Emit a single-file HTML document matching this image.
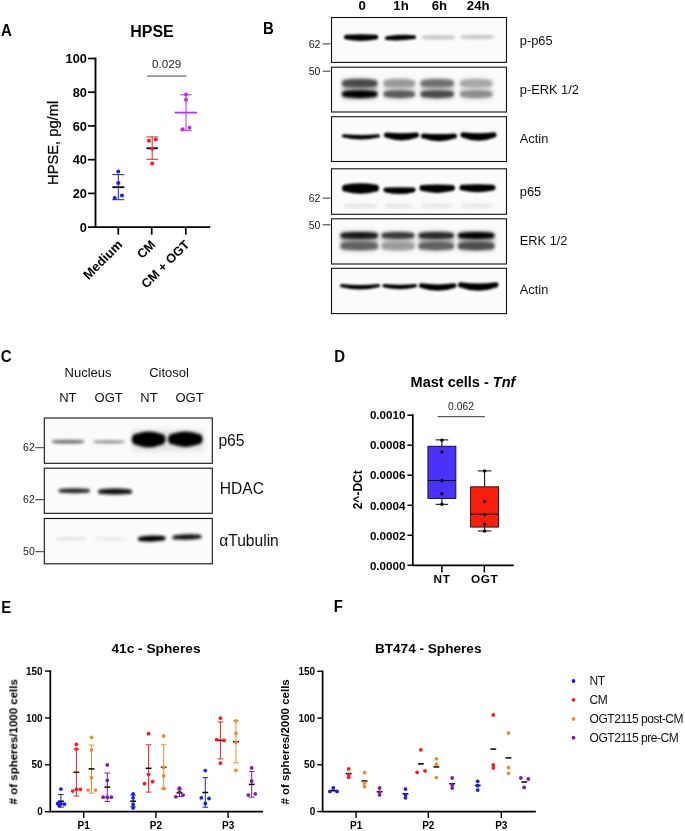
<!DOCTYPE html>
<html lang="en"><head><meta charset="utf-8"><title>Figure</title>
<style>
html,body{margin:0;padding:0;background:#fff;}
body{width:685px;height:831px;overflow:hidden;}
svg{display:block;font-family:"Liberation Sans", sans-serif;}
.b{font-weight:bold;}
.ax{stroke:#000;stroke-width:1.5;fill:none;stroke-linecap:square;}
.tk{stroke:#000;stroke-width:1.4;fill:none;}
.box{fill:#fbfbfb;stroke:#111;stroke-width:1.1;}
.g{fill:#222;}
</style></head><body>
<svg width="685" height="831" viewBox="0 0 685 831">
<defs>
<filter id="bl" filterUnits="userSpaceOnUse" x="0" y="0" width="685" height="831"><feGaussianBlur stdDeviation="1.3"/></filter>
<filter id="bl2" filterUnits="userSpaceOnUse" x="0" y="0" width="685" height="831"><feGaussianBlur stdDeviation="1.8"/></filter>
<filter id="bl3" filterUnits="userSpaceOnUse" x="0" y="0" width="685" height="831"><feGaussianBlur stdDeviation="2.6"/></filter>
<filter id="tb" filterUnits="userSpaceOnUse" x="0" y="0" width="685" height="831"><feGaussianBlur stdDeviation="0.3"/></filter>
</defs>
<rect width="685" height="831" fill="#fff"/>
<g>
<path class="ax" style="stroke-width:1.9" d="M95.5 58.5V227.1H209.3"/>
<line x1="88.0" y1="58.5" x2="95.5" y2="58.5" stroke="#000" stroke-width="1.70"/>
<line x1="88.0" y1="92.2" x2="95.5" y2="92.2" stroke="#000" stroke-width="1.70"/>
<line x1="88.0" y1="125.9" x2="95.5" y2="125.9" stroke="#000" stroke-width="1.70"/>
<line x1="88.0" y1="159.7" x2="95.5" y2="159.7" stroke="#000" stroke-width="1.70"/>
<line x1="88.0" y1="193.4" x2="95.5" y2="193.4" stroke="#000" stroke-width="1.70"/>
<line x1="88.0" y1="227.1" x2="95.5" y2="227.1" stroke="#000" stroke-width="1.70"/>
<line x1="118.3" y1="227.1" x2="118.3" y2="234.7" stroke="#000" stroke-width="1.70"/>
<line x1="151.7" y1="227.1" x2="151.7" y2="234.7" stroke="#000" stroke-width="1.70"/>
<line x1="185.8" y1="227.1" x2="185.8" y2="234.7" stroke="#000" stroke-width="1.70"/>
<line x1="147.2" y1="76.1" x2="186.5" y2="76.1" stroke="#333" stroke-width="0.90"/>
<line x1="118.3" y1="174.6" x2="118.3" y2="199.7" stroke="#1c1cf0" stroke-width="1.00"/>
<line x1="112.3" y1="174.6" x2="124.3" y2="174.6" stroke="#1c1cf0" stroke-width="1.00"/>
<line x1="112.3" y1="199.7" x2="124.3" y2="199.7" stroke="#1c1cf0" stroke-width="1.00"/>
<line x1="112.4" y1="187.2" x2="124.3" y2="187.2" stroke="#000" stroke-width="1.80"/>
<line x1="152.2" y1="136.9" x2="152.2" y2="159.3" stroke="#f31d24" stroke-width="1.00"/>
<line x1="146.5" y1="136.9" x2="157.9" y2="136.9" stroke="#f31d24" stroke-width="1.00"/>
<line x1="146.5" y1="159.3" x2="157.9" y2="159.3" stroke="#f31d24" stroke-width="1.00"/>
<line x1="146.5" y1="148.3" x2="157.9" y2="148.3" stroke="#000" stroke-width="1.80"/>
<line x1="186.0" y1="94.8" x2="186.0" y2="130.7" stroke="#b92ff0" stroke-width="1.00"/>
<line x1="180.3" y1="94.8" x2="191.7" y2="94.8" stroke="#b92ff0" stroke-width="1.00"/>
<line x1="180.3" y1="130.7" x2="191.7" y2="130.7" stroke="#b92ff0" stroke-width="1.00"/>
<line x1="174.6" y1="112.6" x2="197.0" y2="112.6" stroke="#b92ff0" stroke-width="1.80"/>
<circle cx="118.3" cy="171.4" r="2.0" fill="#1c1cf0"/>
<circle cx="118.3" cy="183.0" r="2.0" fill="#1c1cf0"/>
<circle cx="114.7" cy="198.1" r="2.0" fill="#1c1cf0"/>
<circle cx="122.0" cy="195.4" r="2.0" fill="#1c1cf0"/>
<circle cx="149.0" cy="140.8" r="2.0" fill="#f31d24"/>
<circle cx="155.8" cy="139.6" r="2.0" fill="#f31d24"/>
<circle cx="152.2" cy="148.8" r="2.0" fill="#f31d24"/>
<circle cx="152.2" cy="163.6" r="2.0" fill="#f31d24"/>
<circle cx="186.0" cy="94.4" r="2.0" fill="#b92ff0"/>
<circle cx="186.0" cy="99.8" r="2.0" fill="#b92ff0"/>
<circle cx="182.6" cy="129.3" r="2.0" fill="#b92ff0"/>
<circle cx="189.5" cy="127.7" r="2.0" fill="#b92ff0"/>
<rect class="box" x="331.5" y="17.5" width="175" height="44.9"/>
<rect class="box" x="331.5" y="67.2" width="175" height="44.8"/>
<rect class="box" x="331.5" y="116.7" width="175" height="44.8"/>
<rect class="box" x="331.5" y="168.8" width="175" height="45.5"/>
<rect class="box" x="331.5" y="218.8" width="175" height="45.2"/>
<rect class="box" x="331.5" y="268.3" width="175" height="45.3"/>
<line x1="322.7" y1="43.9" x2="330.5" y2="43.9" stroke="#333" stroke-width="1.00"/>
<line x1="322.7" y1="71.2" x2="330.5" y2="71.2" stroke="#333" stroke-width="1.00"/>
<line x1="322.7" y1="198.1" x2="330.5" y2="198.1" stroke="#333" stroke-width="1.00"/>
<line x1="322.7" y1="224.8" x2="330.5" y2="224.8" stroke="#333" stroke-width="1.00"/>
</g>
<g filter="url(#bl3)">
<rect x="343.0" y="79.5" width="33.5" height="19.0" rx="3" fill="#666" opacity="0.55"/>
<rect x="384.5" y="79.5" width="29.5" height="19.0" rx="3" fill="#666" opacity="0.30"/>
<rect x="421.5" y="79.5" width="31.5" height="19.0" rx="3" fill="#666" opacity="0.38"/>
<rect x="461.0" y="79.5" width="30.5" height="19.0" rx="3" fill="#666" opacity="0.25"/>
<rect x="341.5" y="232.0" width="35.5" height="18.0" rx="3" fill="#555" opacity="0.55"/>
<rect x="382.5" y="232.0" width="31.0" height="18.0" rx="3" fill="#555" opacity="0.35"/>
<rect x="419.5" y="232.0" width="33.5" height="18.0" rx="3" fill="#555" opacity="0.50"/>
<rect x="459.0" y="232.0" width="34.5" height="18.0" rx="3" fill="#555" opacity="0.55"/>
</g>
<g filter="url(#bl2)">
<path d="M423.4 35.9Q438.5 34.9 453.6 35.9C455.5 35.9 455.5 38.7 453.6 38.7Q438.5 39.7 423.4 38.7C421.5 38.7 421.5 35.9 423.4 35.9Z" fill="#bcbcbc"/>
<path d="M462.4 35.6Q477.5 34.6 492.6 35.6C494.5 35.6 494.5 38.4 492.6 38.4Q477.5 39.4 462.4 38.4C460.5 38.4 460.5 35.6 462.4 35.6Z" fill="#c2c2c2"/>
<path d="M345.1 80.2Q359.8 77.9 374.4 80.2C378.6 80.2 378.6 86.4 374.4 86.4Q359.8 88.7 345.1 86.4C340.9 86.4 340.9 80.2 345.1 80.2Z" fill="#4a4a4a"/>
<path d="M344.9 91.3Q359.8 89.1 374.6 91.3C378.5 91.3 378.5 97.1 374.6 97.1Q359.8 99.3 344.9 97.1C341.0 97.1 341.0 91.3 344.9 91.3Z" fill="#050505"/>
<path d="M386.6 80.2Q399.2 77.9 411.9 80.2C416.1 80.2 416.1 86.4 411.9 86.4Q399.2 88.7 386.6 86.4C382.4 86.4 382.4 80.2 386.6 80.2Z" fill="#9a9a9a"/>
<path d="M386.4 91.3Q399.2 89.1 412.1 91.3C416.0 91.3 416.0 97.1 412.1 97.1Q399.2 99.3 386.4 97.1C382.5 97.1 382.5 91.3 386.4 91.3Z" fill="#5a5a5a"/>
<path d="M423.6 80.2Q437.2 77.9 450.9 80.2C455.1 80.2 455.1 86.4 450.9 86.4Q437.2 88.7 423.6 86.4C419.4 86.4 419.4 80.2 423.6 80.2Z" fill="#707070"/>
<path d="M423.4 91.3Q437.2 89.1 451.1 91.3C455.0 91.3 455.0 97.1 451.1 97.1Q437.2 99.3 423.4 97.1C419.5 97.1 419.5 91.3 423.4 91.3Z" fill="#484848"/>
<path d="M463.1 80.2Q476.2 77.9 489.4 80.2C493.6 80.2 493.6 86.4 489.4 86.4Q476.2 88.7 463.1 86.4C458.9 86.4 458.9 80.2 463.1 80.2Z" fill="#a8a8a8"/>
<path d="M462.9 91.3Q476.2 89.1 489.6 91.3C493.5 91.3 493.5 97.1 489.6 97.1Q476.2 99.3 462.9 97.1C459.0 97.1 459.0 91.3 462.9 91.3Z" fill="#8c8c8c"/>
<path d="M345.8 203.9Q360.5 202.5 375.2 203.9C377.6 203.9 377.6 207.5 375.2 207.5Q360.5 208.9 345.8 207.5C343.4 207.5 343.4 203.9 345.8 203.9Z" fill="#e6e6e6"/>
<path d="M386.8 203.9Q399.0 202.5 411.2 203.9C413.6 203.9 413.6 207.5 411.2 207.5Q399.0 208.9 386.8 207.5C384.4 207.5 384.4 203.9 386.8 203.9Z" fill="#e6e6e6"/>
<path d="M422.8 203.9Q437.0 202.5 451.2 203.9C453.6 203.9 453.6 207.5 451.2 207.5Q437.0 208.9 422.8 207.5C420.4 207.5 420.4 203.9 422.8 203.9Z" fill="#e6e6e6"/>
<path d="M462.8 203.9Q477.0 202.5 491.2 203.9C493.6 203.9 493.6 207.5 491.2 207.5Q477.0 208.9 462.8 207.5C460.4 207.5 460.4 203.9 462.8 203.9Z" fill="#e6e6e6"/>
<path d="M343.0 232.9Q359.2 230.9 375.5 232.9C378.9 232.9 378.9 237.9 375.5 237.9Q359.2 239.9 343.0 237.9C339.6 237.9 339.6 232.9 343.0 232.9Z" fill="#121212"/>
<path d="M343.6 242.9Q359.2 240.6 374.9 242.9C379.1 242.9 379.1 249.1 374.9 249.1Q359.2 251.4 343.6 249.1C339.4 249.1 339.4 242.9 343.6 242.9Z" fill="#606060"/>
<path d="M384.0 232.9Q398.0 230.9 412.0 232.9C415.4 232.9 415.4 237.9 412.0 237.9Q398.0 239.9 384.0 237.9C380.6 237.9 380.6 232.9 384.0 232.9Z" fill="#383838"/>
<path d="M384.6 242.9Q398.0 240.6 411.4 242.9C415.6 242.9 415.6 249.1 411.4 249.1Q398.0 251.4 384.6 249.1C380.4 249.1 380.4 242.9 384.6 242.9Z" fill="#9c9c9c"/>
<path d="M421.0 232.9Q436.2 230.9 451.5 232.9C454.9 232.9 454.9 237.9 451.5 237.9Q436.2 239.9 421.0 237.9C417.6 237.9 417.6 232.9 421.0 232.9Z" fill="#262626"/>
<path d="M421.6 242.9Q436.2 240.6 450.9 242.9C455.1 242.9 455.1 249.1 450.9 249.1Q436.2 251.4 421.6 249.1C417.4 249.1 417.4 242.9 421.6 242.9Z" fill="#606060"/>
<path d="M460.5 232.9Q476.2 230.9 492.0 232.9C495.4 232.9 495.4 237.9 492.0 237.9Q476.2 239.9 460.5 237.9C457.1 237.9 457.1 232.9 460.5 232.9Z" fill="#050505"/>
<path d="M461.1 242.9Q476.2 240.6 491.4 242.9C495.6 242.9 495.6 249.1 491.4 249.1Q476.2 251.4 461.1 249.1C456.9 249.1 456.9 242.9 461.1 242.9Z" fill="#4c4c4c"/>
</g>
<g filter="url(#bl)">
<path d="M346.4 34.8Q361.1 33.8 375.9 34.8C379.1 34.8 379.1 39.6 375.9 39.6Q361.1 42.2 346.4 39.6C343.2 39.6 343.2 34.8 346.4 34.8Z" fill="#000"/>
<path d="M386.9 36.2Q400.5 34.1 414.1 35.2C416.7 35.2 416.7 39.0 414.1 39.0Q400.5 41.1 386.9 40.0C384.3 40.0 384.3 36.2 386.9 36.2Z" fill="#000"/>
<path d="M343.7 134.2Q361.0 135.8 378.3 134.2C380.6 134.2 380.6 137.6 378.3 137.6Q361.0 141.6 343.7 137.6C341.4 137.6 341.4 134.2 343.7 134.2Z" fill="#000"/>
<path d="M386.6 132.6Q401.5 133.8 416.4 132.6C419.9 132.6 419.9 137.8 416.4 137.8Q401.5 143.0 386.6 137.8C383.1 137.8 383.1 132.6 386.6 132.6Z" fill="#000"/>
<path d="M423.6 133.4Q439.0 134.6 454.4 133.4C457.9 133.4 457.9 138.6 454.4 138.6Q439.0 143.8 423.6 138.6C420.1 138.6 420.1 133.4 423.6 133.4Z" fill="#000"/>
<path d="M463.2 132.3Q478.5 134.1 493.8 132.3C497.5 132.3 497.5 137.7 493.8 137.7Q478.5 143.9 463.2 137.7C459.5 137.7 459.5 132.3 463.2 132.3Z" fill="#000"/>
<path d="M345.7 184.4Q360.5 182.2 375.3 184.4C380.3 184.4 380.3 191.8 375.3 191.8Q360.5 195.6 345.7 191.8C340.7 191.8 340.7 184.4 345.7 184.4Z" fill="#000"/>
<path d="M385.9 187.6Q399.5 186.8 413.1 187.6C416.4 187.6 416.4 192.4 413.1 192.4Q399.5 195.6 385.9 192.4C382.6 192.4 382.6 187.6 385.9 187.6Z" fill="#000"/>
<path d="M422.5 185.1Q437.2 183.9 452.0 185.1C456.1 185.1 456.1 191.1 452.0 191.1Q437.2 194.7 422.5 191.1C418.4 191.1 418.4 185.1 422.5 185.1Z" fill="#000"/>
<path d="M462.4 184.8Q477.5 183.8 492.6 184.8C496.5 184.8 496.5 190.6 492.6 190.6Q477.5 194.0 462.4 190.6C458.5 190.6 458.5 184.8 462.4 184.8Z" fill="#000"/>
<path d="M341.7 283.9Q360.0 285.9 378.3 283.9C380.6 283.9 380.6 287.3 378.3 287.3Q360.0 291.7 341.7 287.3C339.4 287.3 339.4 283.9 341.7 283.9Z" fill="#000"/>
<path d="M384.2 284.1Q399.8 285.3 415.3 284.1C417.6 284.1 417.6 287.5 415.3 287.5Q399.8 291.1 384.2 287.5C381.9 287.5 381.9 284.1 384.2 284.1Z" fill="#000"/>
<path d="M421.3 283.3Q437.8 285.5 454.2 283.3C457.3 283.3 457.3 287.9 454.2 287.9Q437.8 293.7 421.3 287.9C418.2 287.9 418.2 283.3 421.3 283.3Z" fill="#000"/>
<path d="M460.6 282.2Q478.2 285.0 495.9 282.2C499.4 282.2 499.4 287.4 495.9 287.4Q478.2 294.2 460.6 287.4C457.1 287.4 457.1 282.2 460.6 282.2Z" fill="#000"/>
</g>
<g>
<rect class="box" x="44.3" y="418.0" width="168" height="45.3"/>
<rect class="box" x="44.3" y="468.2" width="168" height="45.1"/>
<rect class="box" x="44.3" y="518.5" width="168" height="45.3"/>
<line x1="35.3" y1="447.7" x2="43.8" y2="447.7" stroke="#333" stroke-width="1.00"/>
<line x1="35.3" y1="499.7" x2="43.8" y2="499.7" stroke="#333" stroke-width="1.00"/>
<line x1="35.3" y1="551.7" x2="43.8" y2="551.7" stroke="#333" stroke-width="1.00"/>
</g>
<g filter="url(#bl3)">
<rect x="132.0" y="430.0" width="71.0" height="21.0" rx="3" fill="#888" opacity="0.22"/>
</g>
<g filter="url(#bl2)">
<path d="M53.3 440.3Q68.0 439.3 82.7 440.3C84.5 440.3 84.5 442.9 82.7 442.9Q68.0 443.9 53.3 442.9C51.5 442.9 51.5 440.3 53.3 440.3Z" fill="#6c6c6c"/>
<path d="M94.7 440.7Q109.0 439.9 123.3 440.7C124.9 440.7 124.9 443.1 123.3 443.1Q109.0 443.9 94.7 443.1C93.1 443.1 93.1 440.7 94.7 440.7Z" fill="#8c8c8c"/>
<path d="M137.6 433.6Q148.7 429.2 159.8 433.6C167.6 433.6 167.6 445.2 159.8 445.2Q148.7 449.6 137.6 445.2C129.8 445.2 129.8 433.6 137.6 433.6Z" fill="#000"/>
<path d="M173.8 433.6Q185.4 429.3 197.0 433.6C204.6 433.6 204.6 444.8 197.0 444.8Q185.4 449.1 173.8 444.8C166.2 444.8 166.2 433.6 173.8 433.6Z" fill="#000"/>
<path d="M60.4 489.0Q74.3 487.6 88.2 489.0C90.6 489.0 90.6 492.6 88.2 492.6Q74.3 494.0 60.4 492.6C58.0 492.6 58.0 489.0 60.4 489.0Z" fill="#262626"/>
<path d="M100.4 489.4Q115.1 487.8 129.8 489.4C132.8 489.4 132.8 493.8 129.8 493.8Q115.1 495.4 100.4 493.8C97.4 493.8 97.4 489.4 100.4 489.4Z" fill="#080808"/>
<path d="M57.3 537.4Q71.0 536.5 84.7 537.4C86.4 537.4 86.4 540.0 84.7 540.0Q71.0 540.9 57.3 540.0C55.6 540.0 55.6 537.4 57.3 537.4Z" fill="#e2e2e2"/>
<path d="M97.3 537.6Q111.0 536.7 124.7 537.6C126.4 537.6 126.4 540.2 124.7 540.2Q111.0 541.1 97.3 540.2C95.6 540.2 95.6 537.6 97.3 537.6Z" fill="#e8e8e8"/>
<path d="M140.2 536.7Q151.8 534.8 163.3 536.1C166.3 536.1 166.3 540.5 163.3 540.5Q151.8 542.4 140.2 541.1C137.2 541.1 137.2 536.7 140.2 536.7Z" fill="#050505"/>
<path d="M174.4 535.5Q187.0 533.5 199.6 534.7C202.2 534.7 202.2 538.5 199.6 538.5Q187.0 540.5 174.4 539.3C171.8 539.3 171.8 535.5 174.4 535.5Z" fill="#101010"/>
</g>
<g>
<path class="ax" style="stroke-width:1.7" d="M412.8 415.2V565.3H512.9"/>
<line x1="407.4" y1="415.2" x2="412.8" y2="415.2" stroke="#000" stroke-width="1.50"/>
<line x1="407.4" y1="445.2" x2="412.8" y2="445.2" stroke="#000" stroke-width="1.50"/>
<line x1="407.4" y1="475.2" x2="412.8" y2="475.2" stroke="#000" stroke-width="1.50"/>
<line x1="407.4" y1="505.3" x2="412.8" y2="505.3" stroke="#000" stroke-width="1.50"/>
<line x1="407.4" y1="535.3" x2="412.8" y2="535.3" stroke="#000" stroke-width="1.50"/>
<line x1="407.4" y1="565.3" x2="412.8" y2="565.3" stroke="#000" stroke-width="1.50"/>
<line x1="441.9" y1="565.3" x2="441.9" y2="572.4" stroke="#000" stroke-width="1.50"/>
<line x1="484.3" y1="565.3" x2="484.3" y2="572.4" stroke="#000" stroke-width="1.50"/>
<line x1="437.7" y1="416.7" x2="484.9" y2="416.7" stroke="#333" stroke-width="1.00"/>
<line x1="441.9" y1="439.9" x2="441.9" y2="446.2" stroke="#000" stroke-width="1.00"/>
<line x1="441.9" y1="498.5" x2="441.9" y2="504.3" stroke="#000" stroke-width="1.00"/>
<line x1="435.6" y1="439.9" x2="448.2" y2="439.9" stroke="#000" stroke-width="1.00"/>
<line x1="435.6" y1="504.3" x2="448.2" y2="504.3" stroke="#000" stroke-width="1.00"/>
<rect x="427.9" y="446.2" width="28.0" height="52.3" fill="#4a32fa" stroke="#000" stroke-width="0.8"/>
<line x1="427.9" y1="480.5" x2="455.9" y2="480.5" stroke="#000" stroke-width="1.00"/>
<circle cx="441.9" cy="440.2" r="1.7" fill="#000"/>
<circle cx="441.9" cy="451.9" r="1.7" fill="#000"/>
<circle cx="441.9" cy="480.8" r="1.7" fill="#000"/>
<circle cx="441.9" cy="493.7" r="1.7" fill="#000"/>
<circle cx="441.9" cy="504.3" r="1.7" fill="#000"/>
<line x1="484.6" y1="470.9" x2="484.6" y2="486.8" stroke="#000" stroke-width="1.00"/>
<line x1="484.6" y1="527.1" x2="484.6" y2="531.0" stroke="#000" stroke-width="1.00"/>
<line x1="477.8" y1="470.9" x2="491.4" y2="470.9" stroke="#000" stroke-width="1.00"/>
<line x1="477.8" y1="531.0" x2="491.4" y2="531.0" stroke="#000" stroke-width="1.00"/>
<rect x="470.6" y="486.8" width="28.0" height="40.3" fill="#fa1e0c" stroke="#000" stroke-width="0.8"/>
<line x1="470.6" y1="514.2" x2="498.6" y2="514.2" stroke="#000" stroke-width="1.00"/>
<circle cx="484.6" cy="470.9" r="1.7" fill="#000"/>
<circle cx="484.6" cy="501.6" r="1.7" fill="#000"/>
<circle cx="484.6" cy="514.5" r="1.7" fill="#000"/>
<circle cx="484.6" cy="524.1" r="1.7" fill="#000"/>
<circle cx="484.6" cy="531.0" r="1.7" fill="#000"/>
<path class="ax" style="stroke-width:1.7" d="M50.3 671.1V811.7H262.2"/>
<line x1="45.0" y1="671.1" x2="50.3" y2="671.1" stroke="#000" stroke-width="1.40"/>
<line x1="45.0" y1="718.0" x2="50.3" y2="718.0" stroke="#000" stroke-width="1.40"/>
<line x1="45.0" y1="764.8" x2="50.3" y2="764.8" stroke="#000" stroke-width="1.40"/>
<line x1="45.0" y1="811.7" x2="50.3" y2="811.7" stroke="#000" stroke-width="1.40"/>
<line x1="83.7" y1="811.7" x2="83.7" y2="818.1" stroke="#000" stroke-width="1.40"/>
<line x1="155.9" y1="811.7" x2="155.9" y2="818.1" stroke="#000" stroke-width="1.40"/>
<line x1="228.1" y1="811.7" x2="228.1" y2="818.1" stroke="#000" stroke-width="1.40"/>
<line x1="60.9" y1="794.5" x2="60.9" y2="807.2" stroke="#1c1cf0" stroke-width="1.00"/>
<line x1="58.1" y1="794.5" x2="63.7" y2="794.5" stroke="#1c1cf0" stroke-width="1.00"/>
<line x1="58.1" y1="807.2" x2="63.7" y2="807.2" stroke="#1c1cf0" stroke-width="1.00"/>
<line x1="58.0" y1="801.2" x2="63.8" y2="801.2" stroke="#000" stroke-width="1.50"/>
<circle cx="60.9" cy="789.1" r="1.9" fill="#1c1cf0"/>
<circle cx="57.6" cy="803.5" r="1.9" fill="#1c1cf0"/>
<circle cx="60.9" cy="803.5" r="1.9" fill="#1c1cf0"/>
<circle cx="64.3" cy="804.2" r="1.9" fill="#1c1cf0"/>
<circle cx="59.2" cy="805.5" r="1.9" fill="#1c1cf0"/>
<line x1="76.4" y1="749.1" x2="76.4" y2="796.1" stroke="#f31d24" stroke-width="1.00"/>
<line x1="73.6" y1="749.1" x2="79.2" y2="749.1" stroke="#f31d24" stroke-width="1.00"/>
<line x1="73.6" y1="796.1" x2="79.2" y2="796.1" stroke="#f31d24" stroke-width="1.00"/>
<line x1="73.5" y1="772.3" x2="79.3" y2="772.3" stroke="#000" stroke-width="1.50"/>
<circle cx="76.4" cy="744.4" r="1.9" fill="#f31d24"/>
<circle cx="76.4" cy="749.1" r="1.9" fill="#f31d24"/>
<circle cx="72.7" cy="791.1" r="1.9" fill="#f31d24"/>
<circle cx="76.4" cy="789.4" r="1.9" fill="#f31d24"/>
<circle cx="80.4" cy="789.4" r="1.9" fill="#f31d24"/>
<line x1="91.5" y1="745.1" x2="91.5" y2="793.1" stroke="#f08c2a" stroke-width="1.00"/>
<line x1="88.7" y1="745.1" x2="94.3" y2="745.1" stroke="#f08c2a" stroke-width="1.00"/>
<line x1="88.7" y1="793.1" x2="94.3" y2="793.1" stroke="#f08c2a" stroke-width="1.00"/>
<line x1="88.6" y1="768.9" x2="94.4" y2="768.9" stroke="#000" stroke-width="1.50"/>
<circle cx="91.5" cy="737.4" r="1.9" fill="#f08c2a"/>
<circle cx="91.5" cy="750.1" r="1.9" fill="#f08c2a"/>
<circle cx="91.5" cy="777.7" r="1.9" fill="#f08c2a"/>
<circle cx="88.1" cy="790.1" r="1.9" fill="#f08c2a"/>
<circle cx="95.5" cy="790.1" r="1.9" fill="#f08c2a"/>
<line x1="107.3" y1="773.0" x2="107.3" y2="801.5" stroke="#7a1fa2" stroke-width="1.00"/>
<line x1="104.5" y1="773.0" x2="110.1" y2="773.0" stroke="#7a1fa2" stroke-width="1.00"/>
<line x1="104.5" y1="801.5" x2="110.1" y2="801.5" stroke="#7a1fa2" stroke-width="1.00"/>
<line x1="104.4" y1="787.1" x2="110.2" y2="787.1" stroke="#000" stroke-width="1.50"/>
<circle cx="107.3" cy="764.9" r="1.9" fill="#7a1fa2"/>
<circle cx="107.3" cy="780.4" r="1.9" fill="#7a1fa2"/>
<circle cx="103.2" cy="797.2" r="1.9" fill="#7a1fa2"/>
<circle cx="107.3" cy="797.2" r="1.9" fill="#7a1fa2"/>
<circle cx="111.3" cy="797.2" r="1.9" fill="#7a1fa2"/>
<line x1="133.1" y1="795.1" x2="133.1" y2="806.9" stroke="#1c1cf0" stroke-width="1.00"/>
<line x1="130.3" y1="795.1" x2="135.9" y2="795.1" stroke="#1c1cf0" stroke-width="1.00"/>
<line x1="130.3" y1="806.9" x2="135.9" y2="806.9" stroke="#1c1cf0" stroke-width="1.00"/>
<line x1="130.2" y1="801.2" x2="136.0" y2="801.2" stroke="#000" stroke-width="1.50"/>
<circle cx="133.1" cy="793.8" r="1.9" fill="#1c1cf0"/>
<circle cx="133.1" cy="797.8" r="1.9" fill="#1c1cf0"/>
<circle cx="133.1" cy="804.5" r="1.9" fill="#1c1cf0"/>
<circle cx="133.1" cy="807.9" r="1.9" fill="#1c1cf0"/>
<line x1="148.6" y1="744.8" x2="148.6" y2="792.1" stroke="#f31d24" stroke-width="1.00"/>
<line x1="145.8" y1="744.8" x2="151.4" y2="744.8" stroke="#f31d24" stroke-width="1.00"/>
<line x1="145.8" y1="792.1" x2="151.4" y2="792.1" stroke="#f31d24" stroke-width="1.00"/>
<line x1="145.7" y1="768.3" x2="151.5" y2="768.3" stroke="#000" stroke-width="1.50"/>
<circle cx="148.6" cy="733.7" r="1.9" fill="#f31d24"/>
<circle cx="148.6" cy="774.3" r="1.9" fill="#f31d24"/>
<circle cx="144.5" cy="783.7" r="1.9" fill="#f31d24"/>
<circle cx="152.6" cy="781.7" r="1.9" fill="#f31d24"/>
<line x1="163.7" y1="744.8" x2="163.7" y2="789.1" stroke="#f08c2a" stroke-width="1.00"/>
<line x1="160.9" y1="744.8" x2="166.5" y2="744.8" stroke="#f08c2a" stroke-width="1.00"/>
<line x1="160.9" y1="789.1" x2="166.5" y2="789.1" stroke="#f08c2a" stroke-width="1.00"/>
<line x1="160.8" y1="767.3" x2="166.6" y2="767.3" stroke="#000" stroke-width="1.50"/>
<circle cx="163.7" cy="736.0" r="1.9" fill="#f08c2a"/>
<circle cx="163.7" cy="767.3" r="1.9" fill="#f08c2a"/>
<circle cx="163.7" cy="776.0" r="1.9" fill="#f08c2a"/>
<circle cx="163.7" cy="788.4" r="1.9" fill="#f08c2a"/>
<line x1="179.5" y1="789.1" x2="179.5" y2="796.5" stroke="#7a1fa2" stroke-width="1.00"/>
<line x1="176.7" y1="789.1" x2="182.3" y2="789.1" stroke="#7a1fa2" stroke-width="1.00"/>
<line x1="176.7" y1="796.5" x2="182.3" y2="796.5" stroke="#7a1fa2" stroke-width="1.00"/>
<line x1="176.6" y1="792.8" x2="182.4" y2="792.8" stroke="#000" stroke-width="1.50"/>
<circle cx="179.5" cy="788.1" r="1.9" fill="#7a1fa2"/>
<circle cx="179.5" cy="791.8" r="1.9" fill="#7a1fa2"/>
<circle cx="175.8" cy="796.8" r="1.9" fill="#7a1fa2"/>
<circle cx="183.1" cy="795.1" r="1.9" fill="#7a1fa2"/>
<line x1="205.3" y1="777.7" x2="205.3" y2="807.2" stroke="#1c1cf0" stroke-width="1.00"/>
<line x1="202.5" y1="777.7" x2="208.1" y2="777.7" stroke="#1c1cf0" stroke-width="1.00"/>
<line x1="202.5" y1="807.2" x2="208.1" y2="807.2" stroke="#1c1cf0" stroke-width="1.00"/>
<line x1="202.4" y1="792.5" x2="208.2" y2="792.5" stroke="#000" stroke-width="1.50"/>
<circle cx="205.3" cy="770.6" r="1.9" fill="#1c1cf0"/>
<circle cx="201.3" cy="797.8" r="1.9" fill="#1c1cf0"/>
<circle cx="209.0" cy="798.5" r="1.9" fill="#1c1cf0"/>
<circle cx="205.3" cy="803.5" r="1.9" fill="#1c1cf0"/>
<line x1="220.4" y1="721.9" x2="220.4" y2="758.9" stroke="#f31d24" stroke-width="1.00"/>
<line x1="217.6" y1="721.9" x2="223.2" y2="721.9" stroke="#f31d24" stroke-width="1.00"/>
<line x1="217.6" y1="758.9" x2="223.2" y2="758.9" stroke="#f31d24" stroke-width="1.00"/>
<line x1="217.5" y1="740.4" x2="223.3" y2="740.4" stroke="#000" stroke-width="1.50"/>
<circle cx="220.4" cy="718.2" r="1.9" fill="#f31d24"/>
<circle cx="216.7" cy="739.7" r="1.9" fill="#f31d24"/>
<circle cx="224.1" cy="740.4" r="1.9" fill="#f31d24"/>
<circle cx="220.4" cy="763.2" r="1.9" fill="#f31d24"/>
<line x1="235.9" y1="720.6" x2="235.9" y2="762.9" stroke="#f08c2a" stroke-width="1.00"/>
<line x1="233.1" y1="720.6" x2="238.7" y2="720.6" stroke="#f08c2a" stroke-width="1.00"/>
<line x1="233.1" y1="762.9" x2="238.7" y2="762.9" stroke="#f08c2a" stroke-width="1.00"/>
<line x1="233.0" y1="741.7" x2="238.8" y2="741.7" stroke="#000" stroke-width="1.50"/>
<circle cx="235.9" cy="720.9" r="1.9" fill="#f08c2a"/>
<circle cx="235.9" cy="733.4" r="1.9" fill="#f08c2a"/>
<circle cx="235.9" cy="742.4" r="1.9" fill="#f08c2a"/>
<circle cx="235.9" cy="770.3" r="1.9" fill="#f08c2a"/>
<line x1="251.7" y1="771.6" x2="251.7" y2="797.2" stroke="#7a1fa2" stroke-width="1.00"/>
<line x1="248.9" y1="771.6" x2="254.5" y2="771.6" stroke="#7a1fa2" stroke-width="1.00"/>
<line x1="248.9" y1="797.2" x2="254.5" y2="797.2" stroke="#7a1fa2" stroke-width="1.00"/>
<line x1="248.8" y1="784.4" x2="254.6" y2="784.4" stroke="#000" stroke-width="1.50"/>
<circle cx="251.7" cy="767.9" r="1.9" fill="#7a1fa2"/>
<circle cx="251.7" cy="781.0" r="1.9" fill="#7a1fa2"/>
<circle cx="248.3" cy="795.1" r="1.9" fill="#7a1fa2"/>
<circle cx="255.3" cy="793.8" r="1.9" fill="#7a1fa2"/>
<path class="ax" style="stroke-width:1.7" d="M322.6 671.3V811.6H535.0"/>
<line x1="317.3" y1="671.3" x2="322.6" y2="671.3" stroke="#000" stroke-width="1.40"/>
<line x1="317.3" y1="718.1" x2="322.6" y2="718.1" stroke="#000" stroke-width="1.40"/>
<line x1="317.3" y1="764.8" x2="322.6" y2="764.8" stroke="#000" stroke-width="1.40"/>
<line x1="317.3" y1="811.6" x2="322.6" y2="811.6" stroke="#000" stroke-width="1.40"/>
<line x1="356.1" y1="811.6" x2="356.1" y2="818.0" stroke="#000" stroke-width="1.40"/>
<line x1="428.3" y1="811.6" x2="428.3" y2="818.0" stroke="#000" stroke-width="1.40"/>
<line x1="501.3" y1="811.6" x2="501.3" y2="818.0" stroke="#000" stroke-width="1.40"/>
<line x1="330.4" y1="790.7" x2="336.2" y2="790.7" stroke="#000" stroke-width="1.50"/>
<circle cx="329.9" cy="791.4" r="1.9" fill="#1c1cf0"/>
<circle cx="333.3" cy="788.0" r="1.9" fill="#1c1cf0"/>
<circle cx="337.0" cy="791.4" r="1.9" fill="#1c1cf0"/>
<line x1="345.8" y1="773.6" x2="351.6" y2="773.6" stroke="#000" stroke-width="1.50"/>
<circle cx="348.7" cy="768.9" r="1.9" fill="#f31d24"/>
<circle cx="348.7" cy="774.6" r="1.9" fill="#f31d24"/>
<circle cx="348.7" cy="777.3" r="1.9" fill="#f31d24"/>
<line x1="361.6" y1="781.0" x2="367.4" y2="781.0" stroke="#000" stroke-width="1.50"/>
<circle cx="364.5" cy="772.6" r="1.9" fill="#f08c2a"/>
<circle cx="364.5" cy="783.0" r="1.9" fill="#f08c2a"/>
<circle cx="364.5" cy="786.7" r="1.9" fill="#f08c2a"/>
<line x1="376.7" y1="791.7" x2="382.5" y2="791.7" stroke="#000" stroke-width="1.50"/>
<circle cx="379.6" cy="788.0" r="1.9" fill="#7a1fa2"/>
<circle cx="379.6" cy="792.1" r="1.9" fill="#7a1fa2"/>
<circle cx="379.6" cy="794.8" r="1.9" fill="#7a1fa2"/>
<line x1="402.6" y1="793.8" x2="408.4" y2="793.8" stroke="#000" stroke-width="1.50"/>
<circle cx="405.5" cy="789.1" r="1.9" fill="#1c1cf0"/>
<circle cx="405.5" cy="794.8" r="1.9" fill="#1c1cf0"/>
<circle cx="405.5" cy="797.8" r="1.9" fill="#1c1cf0"/>
<line x1="418.0" y1="763.9" x2="423.8" y2="763.9" stroke="#000" stroke-width="1.50"/>
<circle cx="420.9" cy="749.8" r="1.9" fill="#f31d24"/>
<circle cx="417.2" cy="772.3" r="1.9" fill="#f31d24"/>
<circle cx="425.0" cy="770.9" r="1.9" fill="#f31d24"/>
<line x1="433.5" y1="766.9" x2="439.3" y2="766.9" stroke="#000" stroke-width="1.50"/>
<circle cx="436.4" cy="758.8" r="1.9" fill="#f08c2a"/>
<circle cx="436.4" cy="764.5" r="1.9" fill="#f08c2a"/>
<circle cx="436.4" cy="777.6" r="1.9" fill="#f08c2a"/>
<line x1="449.3" y1="783.7" x2="455.1" y2="783.7" stroke="#000" stroke-width="1.50"/>
<circle cx="452.2" cy="778.0" r="1.9" fill="#7a1fa2"/>
<circle cx="452.2" cy="785.0" r="1.9" fill="#7a1fa2"/>
<circle cx="452.2" cy="788.0" r="1.9" fill="#7a1fa2"/>
<line x1="474.8" y1="785.4" x2="480.6" y2="785.4" stroke="#000" stroke-width="1.50"/>
<circle cx="477.7" cy="781.3" r="1.9" fill="#1c1cf0"/>
<circle cx="477.7" cy="785.7" r="1.9" fill="#1c1cf0"/>
<circle cx="477.7" cy="790.1" r="1.9" fill="#1c1cf0"/>
<line x1="490.4" y1="749.1" x2="496.2" y2="749.1" stroke="#000" stroke-width="1.50"/>
<circle cx="493.3" cy="714.9" r="1.9" fill="#f31d24"/>
<circle cx="493.3" cy="764.9" r="1.9" fill="#f31d24"/>
<circle cx="493.3" cy="767.9" r="1.9" fill="#f31d24"/>
<line x1="505.6" y1="757.9" x2="511.4" y2="757.9" stroke="#000" stroke-width="1.50"/>
<circle cx="508.5" cy="733.0" r="1.9" fill="#f08c2a"/>
<circle cx="508.5" cy="767.6" r="1.9" fill="#f08c2a"/>
<circle cx="508.5" cy="773.3" r="1.9" fill="#f08c2a"/>
<line x1="521.3" y1="782.0" x2="527.1" y2="782.0" stroke="#000" stroke-width="1.50"/>
<circle cx="520.9" cy="778.0" r="1.9" fill="#7a1fa2"/>
<circle cx="528.3" cy="779.0" r="1.9" fill="#7a1fa2"/>
<circle cx="524.2" cy="787.4" r="1.9" fill="#7a1fa2"/>
<circle cx="573.5" cy="681.0" r="1.9" fill="#1c1cf0"/>
<circle cx="573.5" cy="699.8" r="1.9" fill="#f31d24"/>
<circle cx="573.5" cy="718.9" r="1.9" fill="#f08c2a"/>
<circle cx="573.5" cy="737.7" r="1.9" fill="#7a1fa2"/>
</g>
<g filter="url(#tb)">
<text transform="translate(1.0 35.7) scale(1 1.12)" font-size="15.0" class="b">A</text>
<text transform="translate(262.9 33.6) scale(1 1.12)" font-size="15.0" class="b">B</text>
<text transform="translate(0.7 362.0) scale(1 1.12)" font-size="15.0" class="b">C</text>
<text transform="translate(334.3 361.9) scale(1 1.12)" font-size="15.0" class="b">D</text>
<text transform="translate(1.2 612.5) scale(1 1.12)" font-size="15.0" class="b">E</text>
<text transform="translate(333.8 612.3) scale(1 1.12)" font-size="15.0" class="b">F</text>
<text x="152.0" y="37.0" font-size="16.0" text-anchor="middle" class="b" >HPSE</text>
<text x="86.9" y="63.1" font-size="12.8" text-anchor="end" class="b" >100</text>
<text x="86.9" y="96.8" font-size="12.8" text-anchor="end" class="b" >80</text>
<text x="86.9" y="130.5" font-size="12.8" text-anchor="end" class="b" >60</text>
<text x="86.9" y="164.3" font-size="12.8" text-anchor="end" class="b" >40</text>
<text x="86.9" y="198.0" font-size="12.8" text-anchor="end" class="b" >20</text>
<text x="86.9" y="231.7" font-size="12.8" text-anchor="end" class="b" >0</text>
<text transform="translate(58.0 142.9) rotate(-90)" font-size="14.7" text-anchor="middle" class="" stroke="#000" stroke-width="0.25">HPSE, pg/ml</text>
<text transform="translate(123.2 245.4) rotate(-45)" font-size="13.0" text-anchor="end" class="b" >Medium</text>
<text transform="translate(156.2 245.4) rotate(-45)" font-size="12.7" text-anchor="end" class="b" >CM</text>
<text transform="translate(190.2 245.4) rotate(-45)" font-size="12.7" text-anchor="end" class="b" >CM + OGT</text>
<text x="166.6" y="68.0" font-size="11.6" text-anchor="middle" class="g" >0.029</text>
<text x="362.2" y="10.2" font-size="13.2" text-anchor="middle" class="b" >0</text>
<text x="401.0" y="10.2" font-size="13.2" text-anchor="middle" class="b" >1h</text>
<text x="439.4" y="10.2" font-size="13.2" text-anchor="middle" class="b" >6h</text>
<text x="478.2" y="10.2" font-size="13.2" text-anchor="middle" class="b" >24h</text>
<text x="320.4" y="47.7" font-size="10.5" text-anchor="end" class="g" >62</text>
<text x="320.4" y="75.0" font-size="10.5" text-anchor="end" class="g" >50</text>
<text x="320.4" y="201.9" font-size="10.5" text-anchor="end" class="g" >62</text>
<text x="320.4" y="228.6" font-size="10.5" text-anchor="end" class="g" >50</text>
<text x="519.8" y="44.9" font-size="12.8" text-anchor="start" class="" fill="#111">p-p65</text>
<text x="519.8" y="93.9" font-size="12.8" text-anchor="start" class="" fill="#111">p-ERK 1/2</text>
<text x="519.8" y="143.2" font-size="12.8" text-anchor="start" class="" fill="#111">Actin</text>
<text x="519.8" y="195.6" font-size="12.8" text-anchor="start" class="" fill="#111">p65</text>
<text x="519.8" y="245.0" font-size="12.8" text-anchor="start" class="" fill="#111">ERK 1/2</text>
<text x="519.8" y="294.1" font-size="12.8" text-anchor="start" class="" fill="#111">Actin</text>
<text x="88.1" y="377.0" font-size="13.0" text-anchor="middle" class="" fill="#111">Nucleus</text>
<text x="169.0" y="376.5" font-size="13.0" text-anchor="middle" class="" fill="#111">Citosol</text>
<text x="67.9" y="402.0" font-size="13.0" text-anchor="middle" class="" fill="#111">NT</text>
<text x="108.7" y="402.0" font-size="13.0" text-anchor="middle" class="" fill="#111">OGT</text>
<text x="149.0" y="402.0" font-size="13.0" text-anchor="middle" class="" fill="#111">NT</text>
<text x="189.6" y="402.0" font-size="13.0" text-anchor="middle" class="" fill="#111">OGT</text>
<text x="34.8" y="451.4" font-size="10.5" text-anchor="end" class="g" >62</text>
<text x="34.8" y="503.4" font-size="10.5" text-anchor="end" class="g" >62</text>
<text x="34.8" y="555.4" font-size="10.5" text-anchor="end" class="g" >50</text>
<text x="218.4" y="446.3" font-size="15.7" text-anchor="start" class="" fill="#111">p65</text>
<text x="219.8" y="493.6" font-size="15.6" text-anchor="start" class="" fill="#111">HDAC</text>
<text x="219.2" y="545.6" font-size="15.6" text-anchor="start" class="" fill="#111">αTubulin</text>
<text x="410.6" y="386.9" font-size="14.5" class="b">Mast cells - <tspan font-style="italic">Tnf</tspan></text>
<text x="405.4" y="419.4" font-size="11.6" text-anchor="end" class="b" >0.0010</text>
<text x="405.4" y="449.4" font-size="11.6" text-anchor="end" class="b" >0.0008</text>
<text x="405.4" y="479.4" font-size="11.6" text-anchor="end" class="b" >0.0006</text>
<text x="405.4" y="509.5" font-size="11.6" text-anchor="end" class="b" >0.0004</text>
<text x="405.4" y="539.5" font-size="11.6" text-anchor="end" class="b" >0.0002</text>
<text x="405.4" y="569.5" font-size="11.6" text-anchor="end" class="b" >0.0000</text>
<text transform="translate(362.0 489.8) rotate(-90)" font-size="12.0" text-anchor="middle" class="b" >2^-DCt</text>
<text x="461.0" y="410.0" font-size="10.4" text-anchor="middle" class="g" >0.062</text>
<text x="442.0" y="583.3" font-size="11.8" text-anchor="middle" class="b" letter-spacing="0.7">NT</text>
<text x="484.6" y="583.3" font-size="11.8" text-anchor="middle" class="b" letter-spacing="0.5">OGT</text>
<text x="156.0" y="652.6" font-size="13.7" text-anchor="middle" class="b" >41c - Spheres</text>
<text x="42.7" y="674.7" font-size="10.0" text-anchor="end" class="b" >150</text>
<text x="42.7" y="721.6" font-size="10.0" text-anchor="end" class="b" >100</text>
<text x="42.7" y="768.4" font-size="10.0" text-anchor="end" class="b" >50</text>
<text x="42.7" y="815.3" font-size="10.0" text-anchor="end" class="b" >0</text>
<text x="83.7" y="828.5" font-size="10.0" text-anchor="middle" class="b" >P1</text>
<text x="155.9" y="828.5" font-size="10.0" text-anchor="middle" class="b" >P2</text>
<text x="228.1" y="828.5" font-size="10.0" text-anchor="middle" class="b" >P3</text>
<text transform="translate(17.3 741.7) rotate(-90)" font-size="11.5" text-anchor="middle" class="b" ># of spheres/1000 cells</text>
<text x="428.2" y="652.9" font-size="13.6" text-anchor="middle" class="b" >BT474 - Spheres</text>
<text x="315.2" y="674.9" font-size="10.0" text-anchor="end" class="b" >150</text>
<text x="315.2" y="721.7" font-size="10.0" text-anchor="end" class="b" >100</text>
<text x="315.2" y="768.4" font-size="10.0" text-anchor="end" class="b" >50</text>
<text x="315.2" y="815.2" font-size="10.0" text-anchor="end" class="b" >0</text>
<text x="356.1" y="828.5" font-size="10.0" text-anchor="middle" class="b" >P1</text>
<text x="428.3" y="828.5" font-size="10.0" text-anchor="middle" class="b" >P2</text>
<text x="501.3" y="828.5" font-size="10.0" text-anchor="middle" class="b" >P3</text>
<text transform="translate(289.4 741.9) rotate(-90)" font-size="11.5" text-anchor="middle" class="b" ># of spheres/2000 cells</text>
<text x="589.6" y="684.9" font-size="12.0" text-anchor="start" class="" fill="#111" letter-spacing="-0.47">NT</text>
<text x="589.6" y="703.8" font-size="12.0" text-anchor="start" class="" fill="#111" letter-spacing="-0.47">CM</text>
<text x="589.6" y="722.7" font-size="12.0" text-anchor="start" class="" fill="#111" letter-spacing="-0.47">OGT2115 post-CM</text>
<text x="589.6" y="741.5" font-size="12.0" text-anchor="start" class="" fill="#111" letter-spacing="-0.47">OGT2115 pre-CM</text>
</g>
</svg></body></html>
